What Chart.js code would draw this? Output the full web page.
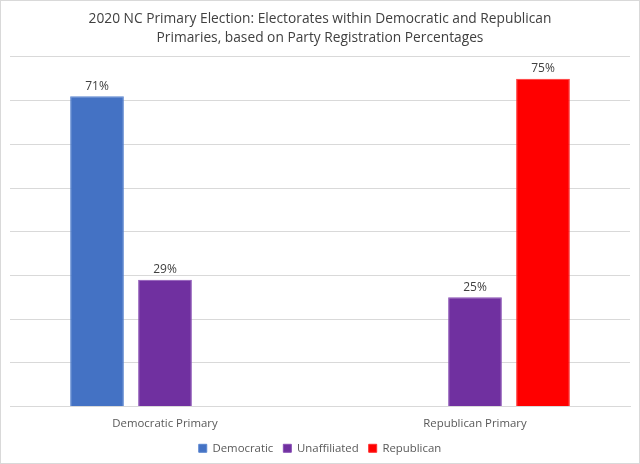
<!DOCTYPE html>
<html>
<head>
<meta charset="utf-8">
<script src="https://cdn.jsdelivr.net/npm/chart.js@4"></script>
<style>
  html, body { margin: 0; padding: 0; background: #fff; }
  #wrap { position: absolute; left: 0; top: 0; width: 638px; height: 462px; border: 1px solid #d9d9d9; }
</style>
</head>
<body>
<div id="wrap"><canvas id="c" width="638" height="462"></canvas></div>
<script>
const categories = ["Democratic Primary", "Republican Primary"];
const seriesNames = ["Democratic", "Unaffiliated", "Republican"];
const democratic = [71, null];
const unaffiliated = [29, 25];
const republican = [null, 75];
const yTicks = [0, 10, 20, 30, 40, 50, 60, 70, 80];
const titleLines = ["2020 NC Primary Election: Electorates within Democratic and Republican", "Primaries, based on Party Registration Percentages"];

const FONT = "'Open Sans', 'Noto Sans', sans-serif";
const colors = ["#4472c4", "#7030a0", "#ff0000"];
const borders = ["#5b86d0", "#8a50b5", "#ff3030"];

const labelPlugin = {
  id: 'barLabels',
  afterDatasetsDraw(chart) {
    const ctx = chart.ctx;
    ctx.save();
    ctx.font = "12px " + FONT;
    ctx.fillStyle = "#404040";
    ctx.textAlign = "center";
    ctx.textBaseline = "bottom";
    chart.data.datasets.forEach((ds, i) => {
      const meta = chart.getDatasetMeta(i);
      meta.data.forEach((bar, j) => {
        const v = ds.data[j];
        if (v === null || v === undefined) return;
        ctx.fillText(v + "%", bar.x, bar.y - 4);
      });
    });
    ctx.restore();
  }
};

// shrink the legend box height so the plot can extend lower
const legendFitPlugin = {
  id: 'legendFit',
  beforeLayout(chart) {
    const lg = chart.legend;
    if (lg && !lg._fitPatched) {
      const orig = lg.fit.bind(lg);
      lg.fit = function () { orig(); this.height = 30.4; };
      lg._fitPatched = true;
    }
  }
};

const dataArrays = [democratic, unaffiliated, republican];
new Chart(document.getElementById('c'), {
  type: 'bar',
  data: {
    labels: categories,
    datasets: seriesNames.map((n, i) => ({
      label: n,
      data: dataArrays[i],
      backgroundColor: colors[i],
      borderColor: borders[i],
      borderWidth: 1,
      categoryPercentage: 0.658,
      barPercentage: 0.79,
      skipNull: false
    }))
  },
  options: {
    responsive: false,
    animation: false,
    devicePixelRatio: 1,
    layout: { padding: { left: 9, right: 9, top: 0, bottom: 0 } },
    plugins: {
      title: {
        display: true,
        text: titleLines,
        color: "#404040",
        font: { family: FONT, size: 13.75, weight: 'normal', lineHeight: 1.38 },
        padding: { top: 8.5, bottom: 9.5 }
      },
      legend: {
        position: 'bottom',
        labels: {
          color: "#595959",
          font: { family: FONT, size: 11.4 },
          boxWidth: 8,
          boxHeight: 8,
          padding: 10
        }
      },
      tooltip: { enabled: false }
    },
    scales: {
      x: {
        grid: { display: false },
        border: { color: "#d9d9d9" },
        ticks: { color: "#595959", font: { family: FONT, size: 11.4 }, padding: 2.2 }
      },
      y: {
        min: 0, max: 80,
        afterBuildTicks(axis) { axis.ticks = yTicks.map(v => ({ value: v })); },
        ticks: { display: false },
        grid: { color: "#d9d9d9", drawTicks: false },
        border: { display: false }
      }
    }
  },
  plugins: [labelPlugin, legendFitPlugin]
});
</script>
</body>
</html>
